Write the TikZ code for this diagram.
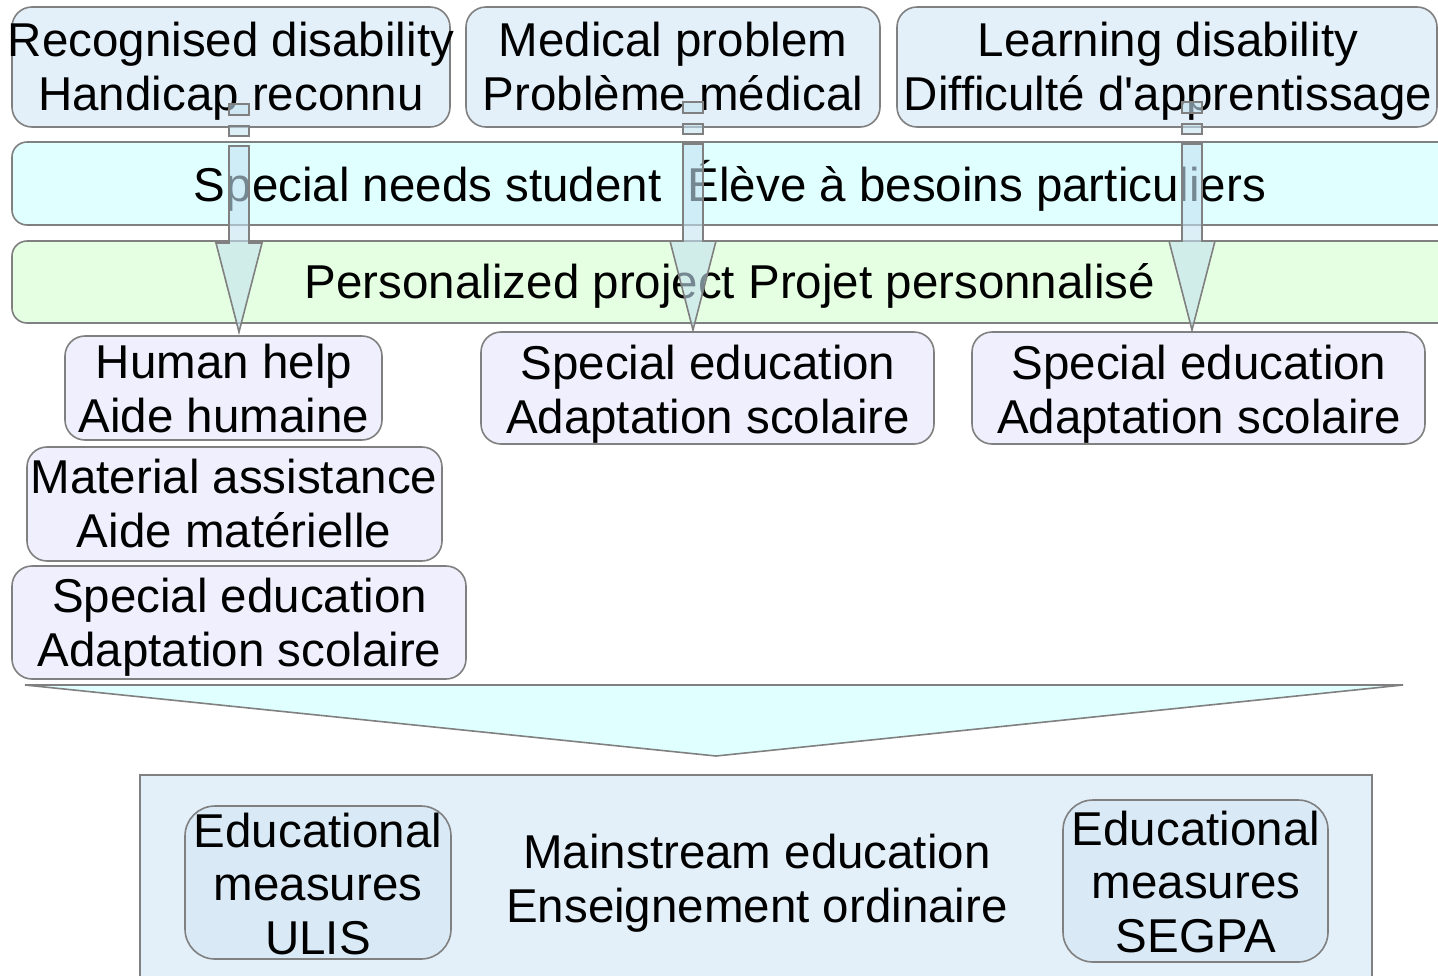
\documentclass[tikz,border=0pt]{standalone}
\usepackage{fontspec}
\setmainfont{Liberation Sans}
\usetikzlibrary{calc}

\definecolor{edgegray}{RGB}{128,128,128}
\definecolor{causefill}{RGB}{227,240,250}
\definecolor{studentfill}{RGB}{224,255,255}
\definecolor{projectfill}{RGB}{229,255,226}
\definecolor{helpfill}{RGB}{239,239,253}
\definecolor{funnelfill}{RGB}{224,255,255}
\definecolor{schoolfill}{RGB}{227,240,250}
\definecolor{measurefill}{RGB}{217,234,246}
\definecolor{arrowfill}{RGB}{196,226,240}

\tikzset{
  panel/.style={draw=edgegray, line width=1.6pt, inner sep=0pt, outer sep=0pt},
  cause/.style={panel, fill=causefill, rounded corners=20pt},
  student/.style={panel, fill=studentfill, rounded corners=15pt},
  project/.style={panel, fill=projectfill, rounded corners=15pt},
  helpbox/.style={panel, fill=helpfill, rounded corners=20pt},
  school/.style={panel, fill=schoolfill},
  measure/.style={panel, fill=measurefill, rounded corners=30pt},
  % anchored on the baseline of the last line
  label/.style={anchor=base, inner sep=0pt, align=center,
    font=\fontsize{47.5}{53.5}\selectfont},
  fatarrow/.style={draw=edgegray, line width=1.6pt, fill=arrowfill, fill opacity=0.6},
}

% block arrow drawn up to its tip coordinate #1
\newcommand\blockarrow[1]{%
  \path[fatarrow] ($(#1)+(-10,-228)$) rectangle ($(#1)+(10,-217)$);
  \path[fatarrow] ($(#1)+(-10,-206)$) rectangle ($(#1)+(10,-196)$);
  \path[fatarrow] ($(#1)+(-10,-186)$) -- ($(#1)+(10,-186)$) -- ($(#1)+(10,-89)$)
     -- ($(#1)+(23,-89)$) -- (#1) -- ($(#1)+(-23,-89)$) -- ($(#1)+(-10,-89)$) -- cycle;
}

\begin{document}
\begin{tikzpicture}[x=1pt, y=-1pt]
\useasboundingbox (0,0) rectangle (1438,975);
\clip (0,0) rectangle (1438,975);

% causes
\node[cause, minimum width=438, minimum height=120] (dis) at (231,67) {};
\node[cause, minimum width=414, minimum height=120] (med) at (673,67) {};
\node[cause, minimum width=540, minimum height=120] (lrn) at (1167,67) {};
\node[label] (disT) at (231,110) {Recognised disability\\Handicap reconnu};
\node[label] (medT) at (673,110) {Medical problem\\Problème médical};
\node[label] (lrnT) at (1168,110) {Learning disability\\Difficulté d\textquotesingle apprentissage};

% student and project bands
\node[student, minimum width=1448, minimum height=83] (stu) at (736,183.5) {};
\node[label] (stuT) at (730,201) {Special needs student\ \ Élève à besoins particuliers};
\node[project, minimum width=1448, minimum height=82] (prj) at (736,282) {};
\node[label] (prjT) at (730,298) {Personalized project Projet personnalisé};

% responses
\node[helpbox, minimum width=317, minimum height=104] (hum) at (223.5,388) {};
\node[label] (humT) at (224,432) {Human help\\Aide humaine};
\node[helpbox, minimum width=415, minimum height=114] (mat) at (234.5,504) {};
\node[label] (matT) at (234,547) {Material assistance\\Aide matérielle};
\node[helpbox, minimum width=454, minimum height=113] (spl) at (239,622.5) {};
\node[label] (splT) at (239.5,666) {Special education\\Adaptation scolaire};
\node[helpbox, minimum width=453, minimum height=112] (spm) at (707.5,388) {};
\node[label] (spmT) at (708,433) {Special education\\Adaptation scolaire};
\node[helpbox, minimum width=453, minimum height=112] (spr) at (1198.5,388) {};
\node[label] (sprT) at (1199,433) {Special education\\Adaptation scolaire};

% funnel into mainstream schooling
\coordinate (fl) at (25,685);
\coordinate (fr) at (1403,685);
\coordinate (ft) at (716,756);
\path[draw=edgegray, line width=1.6pt, fill=funnelfill] (fl) -- (fr) -- (ft) -- cycle;

\node[school, minimum width=1232, minimum height=215] (main) at (756,882.5) {};
\node[measure, minimum width=266, minimum height=153] (ulis) at (318,882.5) {};
\node[label] (ulisT) at (318,954) {Educational\\measures\\ULIS};
\node[measure, minimum width=265, minimum height=162] (segpa) at (1195.5,881) {};
\node[label] (segpaT) at (1196,952) {Educational\\measures\\SEGPA};
\node[label] (mainT) at (757,922) {Mainstream education\\Enseignement ordinaire};

% arrows from causes through the project
\coordinate (t1) at (239,332);
\coordinate (t2) at (693,330);
\coordinate (t3) at (1192,330);
\blockarrow{t1}
\blockarrow{t2}
\blockarrow{t3}
\end{tikzpicture}
\end{document}
